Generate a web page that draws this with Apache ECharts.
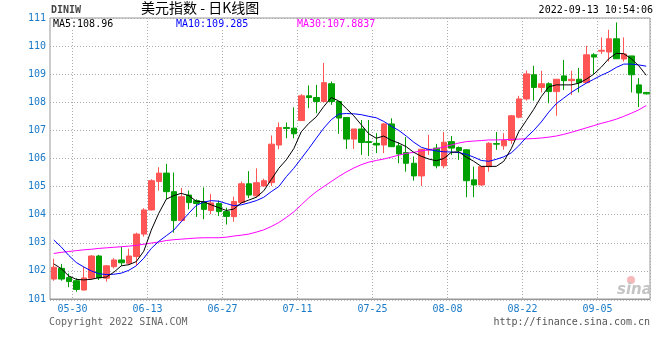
<!DOCTYPE html>
<html><head><meta charset="utf-8">
<script src="https://cdn.jsdelivr.net/npm/echarts@6/dist/echarts.min.js"></script>
<style>html,body{margin:0;padding:0;background:#fff}#c{width:660px;height:360px}</style>
</head><body><div id="c"></div>
<script>
const dates = ['05-25','05-26','05-27','05-30','05-31','06-01','06-02','06-03','06-06','06-07','06-08','06-09','06-10','06-13','06-14','06-15','06-16','06-17','06-20','06-21','06-22','06-23','06-24','06-27','06-28','06-29','06-30','07-01','07-04','07-05','07-06','07-07','07-08','07-11','07-12','07-13','07-14','07-15','07-18','07-19','07-20','07-21','07-22','07-25','07-26','07-27','07-28','07-29','08-01','08-02','08-03','08-04','08-05','08-08','08-09','08-10','08-11','08-12','08-15','08-16','08-17','08-18','08-19','08-22','08-23','08-24','08-25','08-26','08-29','08-30','08-31','09-01','09-02','09-05','09-06','09-07','09-08','09-09','09-12','09-13'];

const opens = [101.71,102.09,101.76,101.65,101.32,101.74,102.53,101.74,102.15,102.39,
102.27,102.51,103.31,104.17,105.18,105.48,104.82,103.79,104.70,104.50,
104.45,104.15,104.40,104.11,103.93,104.43,105.10,104.67,105.02,105.14,
106.48,107.10,107.08,107.35,108.23,108.17,108.03,108.66,108.03,107.46,
106.69,107.05,106.60,106.54,106.48,107.23,106.45,106.21,105.83,105.38,
106.30,106.37,105.74,106.60,106.39,106.31,105.24,105.06,105.71,106.53,
106.45,106.64,107.47,108.12,108.98,108.53,108.66,108.38,108.94,108.77,
108.82,108.70,109.69,109.82,109.79,110.26,109.54,109.65,108.62,108.35];
const closes = [102.13,101.71,101.62,101.34,101.75,102.53,101.75,102.18,102.39,102.29,
102.53,103.31,104.17,105.21,105.48,104.82,103.79,104.64,104.43,104.40,
104.19,104.42,104.11,103.94,104.47,105.10,104.70,105.14,105.21,106.51,
107.10,107.07,106.88,108.23,108.17,108.03,108.70,108.03,107.44,106.69,
107.05,106.57,106.57,106.48,107.23,106.42,106.16,105.83,105.38,106.33,
106.33,105.74,106.58,106.37,106.28,105.21,105.06,105.71,106.54,106.51,
106.64,107.52,108.12,109.01,108.53,108.66,108.38,108.82,108.77,108.82,
108.70,109.69,109.61,109.85,110.26,109.55,109.72,108.98,108.33,108.30];
const lows = [101.65,101.65,101.42,101.26,101.30,101.68,101.68,101.62,102.09,102.18,
102.21,102.18,103.22,104.15,104.86,104.55,103.36,103.75,104.19,103.92,
103.84,104.02,103.95,103.65,103.75,104.40,104.59,104.61,105.00,105.02,
106.33,106.72,106.72,107.34,107.79,107.61,107.99,107.91,106.88,106.34,
106.34,106.13,106.09,106.19,106.19,106.42,105.83,105.53,105.21,105.02,
106.13,105.65,105.65,106.13,105.95,104.62,104.62,105.02,105.53,106.31,
106.31,106.52,107.43,108.06,108.06,108.35,107.97,107.52,108.44,108.26,
108.35,108.68,109.01,109.72,109.45,109.54,109.45,108.35,107.83,108.28];
const highs = [102.43,102.25,101.91,101.74,102.15,102.56,102.57,102.21,102.45,102.86,
102.79,103.36,104.23,105.26,105.69,105.81,105.50,104.95,104.86,104.55,
104.97,104.74,104.50,104.25,104.64,105.18,105.55,105.65,105.28,106.82,
107.28,107.28,107.82,108.29,108.60,108.62,109.40,108.74,108.03,107.46,
107.05,107.37,107.37,106.90,107.26,107.43,106.57,106.76,106.07,106.33,
106.84,106.52,106.94,106.80,106.43,106.33,105.71,105.71,106.58,106.94,
106.90,107.55,108.23,109.13,109.30,109.12,108.71,108.82,109.51,109.12,
109.22,110.01,109.75,110.31,110.58,110.84,110.31,109.65,108.86,108.37];

const ma5 = [102.25,102.08,101.82,101.70,101.68,101.70,101.76,101.78,101.95,102.18,
102.22,102.33,102.70,103.45,104.05,104.55,104.68,104.76,104.68,104.48,
104.46,104.35,104.25,104.15,104.20,104.42,104.52,104.62,104.85,105.25,
105.65,105.95,106.35,106.95,107.25,107.48,107.85,108.17,108.05,107.78,
107.52,107.20,106.88,106.72,106.80,106.65,106.55,106.42,106.22,106.08,
105.98,105.92,106.00,106.22,106.24,106.05,105.90,105.72,105.72,105.72,
105.90,106.35,106.95,107.35,107.75,108.20,108.55,108.62,108.62,108.62,
108.68,108.82,109.00,109.25,109.55,109.74,109.73,109.55,109.30,108.96];
const ma10 = [103.10,102.85,102.55,102.30,102.14,102.00,101.90,101.87,101.88,101.92,
102.02,102.18,102.45,102.80,103.05,103.25,103.45,103.75,104.05,104.33,
104.45,104.50,104.48,104.40,104.32,104.35,104.42,104.50,104.62,104.82,
105.00,105.35,105.65,106.00,106.35,106.72,107.08,107.38,107.58,107.60,
107.59,107.56,107.50,107.45,107.32,107.15,107.00,106.80,106.58,106.40,
106.32,106.27,106.24,106.23,106.21,106.15,106.05,105.93,105.90,105.97,
106.06,106.20,106.45,106.75,107.00,107.30,107.65,107.95,108.15,108.35,
108.52,108.68,108.82,108.96,109.08,109.24,109.36,109.36,109.33,109.285];
const ma30 = [102.62,102.66,102.69,102.72,102.75,102.77,102.80,102.82,102.84,102.86,
102.88,102.91,102.95,102.99,103.03,103.08,103.11,103.13,103.15,103.17,
103.18,103.18,103.18,103.20,103.24,103.27,103.31,103.38,103.46,103.58,
103.72,103.90,104.10,104.35,104.60,104.82,105.00,105.18,105.36,105.52,
105.66,105.78,105.87,105.93,105.98,106.05,106.12,106.18,106.22,106.27,
106.31,106.35,106.41,106.48,106.55,106.60,106.62,106.64,106.66,106.66,
106.67,106.68,106.69,106.70,106.71,106.73,106.76,106.80,106.86,106.93,
107.01,107.09,107.17,107.25,107.32,107.40,107.50,107.61,107.73,107.8837];

const legendMA5 = 'MA5:108.96';
const legendMA10 = 'MA10:109.285';
const legendMA30 = 'MA30:107.8837';
const yMin = 101, yMax = 111, yStep = 1;

const kdata = opens.map((o, i) => [o, closes[i], lows[i], highs[i]]);
const MONO = 'DejaVu Sans Mono';
const showIdx = (i) => i % 10 === 3;

const chart = echarts.init(document.getElementById('c'), null, {renderer: 'canvas'});
chart.setOption({
  animation: false,
  backgroundColor: '#fff',
  grid: {left: 50, right: 10, top: 18, bottom: 61, show: true, borderColor: '#999', borderWidth: 1, backgroundColor: 'transparent'},
  xAxis: {
    type: 'category', data: dates, boundaryGap: true,
    axisLine: {show: true, lineStyle: {color: '#999', width: 1}},
    axisTick: {show: false, interval: showIdx},
    axisLabel: {interval: showIdx, color: '#1a7ac8', fontFamily: MONO, fontSize: 10, margin: 5, padding: [0, 7.5, 0, 0]},
    splitLine: {show: true, interval: showIdx, lineStyle: {color: '#aaa', type: [1, 2], width: 1}}
  },
  yAxis: {
    type: 'value', min: yMin, max: yMax, interval: yStep, scale: true,
    axisLine: {show: false}, axisTick: {show: false},
    axisLabel: {color: '#1a7ac8', fontFamily: MONO, fontSize: 10, margin: 4},
    splitLine: {show: true, lineStyle: {color: '#aaa', type: [1, 2], width: 1}}
  },
  series: [
    {type: 'candlestick', data: kdata, barWidth: 6,
     itemStyle: {color: '#ff5555', color0: '#00a000', borderColor: '#ff5555', borderColor0: '#00a000', borderWidth: 1}},
    {type: 'line', data: ma30, symbol: 'none', lineStyle: {color: '#ff00ff', width: 1}, z: 3},
    {type: 'line', data: ma10, symbol: 'none', lineStyle: {color: '#0000ff', width: 1}, z: 4},
    {type: 'line', data: ma5, symbol: 'none', lineStyle: {color: '#000000', width: 1}, z: 5}
  ],
  graphic: [
    {type: 'line', shape: {x1: 50, y1: 300.5, x2: 651, y2: 300.5}, style: {stroke: '#bbb', lineDash: [1, 2], lineWidth: 1}, silent: true},
    {type: 'text', left: 51, top: 5, style: {text: 'DINIW', font: 'bold 10px "DejaVu Sans Mono"', fill: '#444'}},
    {type: 'text', left: 141, top: 1, style: {text: '美元指数 - 日K线图', font: '14px "Noto Sans CJK SC"', fill: '#000'}},
    {type: 'text', right: 7, top: 5, style: {text: '2022-09-13 10:54:06', font: '10px "DejaVu Sans Mono"', fill: '#000'}},
    {type: 'text', left: 53, top: 19, z: 100, style: {text: legendMA5, font: '10px "DejaVu Sans Mono"', fill: '#000', backgroundColor: '#fff'}},
    {type: 'text', left: 176, top: 19, z: 100, style: {text: legendMA10, font: '10px "DejaVu Sans Mono"', fill: '#0000ff', backgroundColor: '#fff'}},
    {type: 'text', left: 297, top: 19, z: 100, style: {text: legendMA30, font: '10px "DejaVu Sans Mono"', fill: '#ff00ff', backgroundColor: '#fff'}},
    {type: 'text', left: 49, top: 317, style: {text: 'Copyright 2022 SINA.COM', font: '10px "DejaVu Sans Mono"', fill: '#666'}},
    {type: 'text', right: 10, top: 317, style: {text: 'http://finance.sina.com.cn', font: '10px "DejaVu Sans Mono"', fill: '#555'}},
    {type: 'circle', shape: {cx: 631, cy: 280, r: 4}, style: {fill: '#f4a8a8', opacity: 0.8}, silent: true},
    {type: 'text', left: 617, top: 283, style: {text: 'sina', font: 'italic bold 15px "DejaVu Sans"', fill: '#c4c4c4'}}
  ]
});
</script></body></html>
